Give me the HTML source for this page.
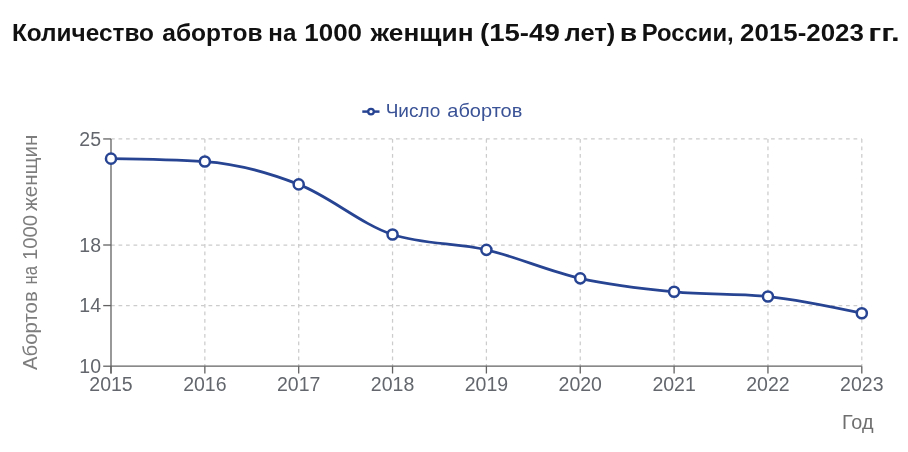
<!DOCTYPE html>
<html><head><meta charset="utf-8"><style>
html,body{margin:0;padding:0;background:#fff;}
body{width:908px;height:452px;overflow:hidden;}
svg{display:block;font-family:"Liberation Sans",sans-serif;will-change:transform;}
</style></head><body>
<svg width="908" height="452" viewBox="0 0 908 452">
<rect width="908" height="452" fill="#fff"/>
<g font-weight="bold" font-size="24.5" fill="#111"><text x="11.91" y="41.4" textLength="142.08" lengthAdjust="spacingAndGlyphs">Количество</text><text x="162.30" y="41.4" textLength="100.18" lengthAdjust="spacingAndGlyphs">абортов</text><text x="268.33" y="41.4" textLength="28.02" lengthAdjust="spacingAndGlyphs">на</text><text x="304.38" y="41.4" textLength="57.66" lengthAdjust="spacingAndGlyphs">1000</text><text x="370.60" y="41.4" textLength="102.96" lengthAdjust="spacingAndGlyphs">женщин</text><text x="479.97" y="41.4" textLength="79.76" lengthAdjust="spacingAndGlyphs">(15-49</text><text x="564.60" y="41.4" textLength="50.63" lengthAdjust="spacingAndGlyphs">лет)</text><text x="619.78" y="41.4" textLength="17.45" lengthAdjust="spacingAndGlyphs">в</text><text x="641.65" y="41.4" textLength="92.07" lengthAdjust="spacingAndGlyphs">России,</text><text x="740.14" y="41.4" textLength="123.79" lengthAdjust="spacingAndGlyphs">2015-2023</text><text x="868.15" y="41.4" textLength="31.61" lengthAdjust="spacingAndGlyphs">гг.</text></g>
<g stroke="#cccccc" stroke-width="1.25" stroke-dasharray="3.75 3.75" fill="none"><line x1="111.00" y1="305.60" x2="861.80" y2="305.60"/><line x1="111.00" y1="245.00" x2="861.80" y2="245.00"/><line x1="111.00" y1="138.95" x2="861.80" y2="138.95"/><line x1="204.85" y1="138.95" x2="204.85" y2="366.20"/><line x1="298.70" y1="138.95" x2="298.70" y2="366.20"/><line x1="392.55" y1="138.95" x2="392.55" y2="366.20"/><line x1="486.40" y1="138.95" x2="486.40" y2="366.20"/><line x1="580.25" y1="138.95" x2="580.25" y2="366.20"/><line x1="674.10" y1="138.95" x2="674.10" y2="366.20"/><line x1="767.95" y1="138.95" x2="767.95" y2="366.20"/><line x1="861.80" y1="138.95" x2="861.80" y2="366.20"/></g>
<g stroke="#626262" stroke-width="1.3" fill="none">
<line x1="111.00" y1="138.95" x2="111.00" y2="373.50"/>
<line x1="111.00" y1="366.20" x2="861.80" y2="366.20"/>
<line x1="103.2" y1="366.20" x2="111.00" y2="366.20"/><line x1="103.2" y1="305.60" x2="111.00" y2="305.60"/><line x1="103.2" y1="245.00" x2="111.00" y2="245.00"/><line x1="103.2" y1="138.95" x2="111.00" y2="138.95"/><line x1="111.00" y1="366.20" x2="111.00" y2="373.50"/><line x1="204.85" y1="366.20" x2="204.85" y2="373.50"/><line x1="298.70" y1="366.20" x2="298.70" y2="373.50"/><line x1="392.55" y1="366.20" x2="392.55" y2="373.50"/><line x1="486.40" y1="366.20" x2="486.40" y2="373.50"/><line x1="580.25" y1="366.20" x2="580.25" y2="373.50"/><line x1="674.10" y1="366.20" x2="674.10" y2="373.50"/><line x1="767.95" y1="366.20" x2="767.95" y2="373.50"/><line x1="861.80" y1="366.20" x2="861.80" y2="373.50"/>
</g>
<g font-size="19.5" fill="#63676d"><text x="101" y="373.00" text-anchor="end">10</text><text x="101" y="312.40" text-anchor="end">14</text><text x="101" y="251.80" text-anchor="end">18</text><text x="101" y="145.75" text-anchor="end">25</text><text x="111.00" y="391" text-anchor="middle">2015</text><text x="204.85" y="391" text-anchor="middle">2016</text><text x="298.70" y="391" text-anchor="middle">2017</text><text x="392.55" y="391" text-anchor="middle">2018</text><text x="486.40" y="391" text-anchor="middle">2019</text><text x="580.25" y="391" text-anchor="middle">2020</text><text x="674.10" y="391" text-anchor="middle">2021</text><text x="767.95" y="391" text-anchor="middle">2022</text><text x="861.80" y="391" text-anchor="middle">2023</text></g>
<g transform="translate(37.3,370) rotate(-90)" font-size="19.5" fill="#7d7d7d"><text x="0.00" y="0" textLength="78.78" lengthAdjust="spacingAndGlyphs">Абортов</text><text x="85.54" y="0" textLength="18.54" lengthAdjust="spacingAndGlyphs">на</text><text x="110.03" y="0" textLength="44.98" lengthAdjust="spacingAndGlyphs">1000</text><text x="159.00" y="0" textLength="76.35" lengthAdjust="spacingAndGlyphs">женщин</text></g>
<g font-size="19.3" fill="#6f6f6f"><text x="841.94" y="428.9" textLength="31.55" lengthAdjust="spacingAndGlyphs">Год</text></g>
<line x1="362.3" y1="111.6" x2="379.5" y2="111.6" stroke="#274493" stroke-width="2.5"/>
<circle cx="371" cy="111.6" r="2.8" fill="#fff" stroke="#274493" stroke-width="2.3"/>
<g font-size="18.5" fill="#3a5296"><text x="385.67" y="116.6" textLength="54.75" lengthAdjust="spacingAndGlyphs">Число</text><text x="447.32" y="116.6" textLength="74.97" lengthAdjust="spacingAndGlyphs">абортов</text></g>
<path d="M111.00 158.65 C142.28 159.12 173.57 159.60 204.85 161.52 C236.13 163.44 267.42 172.23 298.70 184.40 C329.98 196.57 361.27 224.35 392.55 234.55 C423.83 244.75 455.12 242.55 486.40 249.85 C517.68 257.15 548.97 271.34 580.25 278.33 C611.53 285.32 642.82 288.78 674.10 291.81 C705.38 294.84 736.67 293.38 767.95 296.51 C799.23 299.64 830.52 306.41 861.80 313.18" fill="none" stroke="#274493" stroke-width="2.75" stroke-linejoin="round" stroke-linecap="round"/>
<g fill="#fff" stroke="#274493" stroke-width="2.5"><circle cx="111.00" cy="158.65" r="5.05"/><circle cx="204.85" cy="161.52" r="5.05"/><circle cx="298.70" cy="184.40" r="5.05"/><circle cx="392.55" cy="234.55" r="5.05"/><circle cx="486.40" cy="249.85" r="5.05"/><circle cx="580.25" cy="278.33" r="5.05"/><circle cx="674.10" cy="291.81" r="5.05"/><circle cx="767.95" cy="296.51" r="5.05"/><circle cx="861.80" cy="313.18" r="5.05"/></g>
</svg>
</body></html>
